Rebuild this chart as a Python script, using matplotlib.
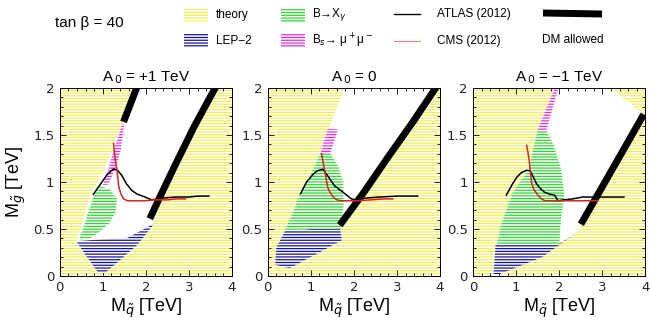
"""Constrained MSSM plane at tan beta = 40 for three A0 values.

Squark vs gluino mass, with theory / LEP-2 / b->s gamma / Bs->mumu
excluded regions, the ATLAS and CMS 2012 limits and the DM allowed strips.
"""

import matplotlib.pyplot as plt
from matplotlib.patches import Polygon, Rectangle

plt.rcParams["hatch.linewidth"] = 0.9
plt.rcParams["font.family"] = ["Liberation Sans", "DejaVu Sans"]

titles = ["A$_{\\,0}$ = +1 TeV", "A$_{\\,0}$ = 0", "A$_{\\,0}$ = \u22121 TeV"]

# allowed (white) region of each panel, everything else is "theory" excluded
allowed_1 = [(0.38, 0.35), (0.72, 0.87), (1.0, 1.1), (1.25, 1.38), (1.48, 1.66), (1.78, 2.0),
             (3.61, 2.0), (3.12, 1.59), (2.7, 1.2), (2.36, 0.875), (2.09, 0.61),
             (2.2, 0.55), (1.8, 0.33), (1.05, 0.03), (0.9, 0.03)]
allowed_2 = [(0.17, 0.12), (0.2, 0.3), (0.44, 0.52), (0.75, 0.875), (1.05, 1.125), (1.2, 1.3),
             (1.4, 1.55), (1.6, 1.78), (1.78, 2.0), (3.92, 2.0), (3.4, 1.66), (2.8, 1.27),
             (2.2, 0.87), (1.67, 0.54), (1.72, 0.38), (1.2, 0.25), (0.5, 0.08)]
allowed_3 = [(0.46, 0.0), (0.51, 0.3), (0.63, 0.52), (0.9, 0.875), (1.28, 1.125), (1.49, 1.55),
             (1.89, 2.0), (3.2, 2.0), (3.96, 1.72), (2.5, 0.55), (2.43, 0.47), (0.62, 0.0)]

lep_1 = [(0.38, 0.37), (1.0, 0.39), (1.55, 0.4), (2.2, 0.56), (1.8, 0.33), (1.05, 0.03),
         (0.9, 0.03), (0.6, 0.22)]
lep_2 = [(0.17, 0.12), (0.2, 0.3), (0.4, 0.48), (1.0, 0.5), (1.68, 0.5), (1.72, 0.38),
         (1.2, 0.25), (0.5, 0.08)]
lep_3 = [(0.47, 0.02), (0.52, 0.34), (2.0, 0.34), (2.43, 0.47), (1.6, 0.2), (0.62, 0.02)]

bsg_1 = [(0.45, 0.38), (0.62, 0.62), (0.8, 0.88), (0.95, 0.95), (1.15, 0.93), (1.33, 0.82),
         (1.3, 0.68), (1.15, 0.56), (0.95, 0.48), (0.75, 0.41)]
bsg_2 = [(0.4, 0.48), (0.6, 0.7), (0.75, 0.875), (1.05, 1.13), (1.22, 1.31), (1.45, 1.31),
         (1.65, 1.15), (1.75, 1.0), (1.76, 0.75), (1.7, 0.5), (1.0, 0.5)]
bsg_3 = [(0.55, 0.34), (0.63, 0.52), (0.9, 0.875), (1.28, 1.125), (1.49, 1.55), (1.7, 1.55),
         (1.88, 1.38), (2.05, 1.12), (2.12, 0.85), (2.04, 0.6), (2.0, 0.34)]

bsmm_1 = [(1.0, 0.97), (1.12, 0.97), (1.3, 1.15), (1.42, 1.35), (1.5, 1.62), (1.45, 1.62),
          (1.25, 1.33), (1.1, 1.1)]
bsmm_2 = [(1.22, 1.3), (1.45, 1.3), (1.63, 1.56), (1.4, 1.57), (1.3, 1.43)]
bsmm_3 = [(1.49, 1.55), (1.7, 1.55), (1.98, 2.0), (1.89, 2.0)]

# DM allowed strips (msq, mgl)
dm_1 = [([1.48, 1.8], [1.64, 2.02]),
        ([2.09, 2.36, 2.7, 3.12, 3.63], [0.61, 0.875, 1.2, 1.59, 2.02])]
dm_2 = [([1.67, 2.2, 2.8, 3.4, 3.94], [0.54, 0.87, 1.27, 1.66, 2.03])]
dm_3 = [([2.5, 3.96], [0.55, 1.72])]

atlas_x_1 = [0.78, 0.95, 1.1, 1.25, 1.35, 1.44, 1.55, 1.67, 1.8, 1.98, 2.13, 2.4, 2.7, 3.0, 3.2, 3.46]
atlas_y_1 = [0.87, 0.98, 1.08, 1.14, 1.12, 1.07, 0.98, 0.91, 0.87, 0.84, 0.81, 0.83, 0.84, 0.84, 0.85, 0.85]
cms_x_1 = [1.25, 1.27, 1.3, 1.33, 1.37, 1.42, 1.48, 1.57, 1.67, 1.8, 1.97, 2.2, 2.5, 2.7, 2.92]
cms_y_1 = [1.41, 1.3, 1.2, 1.12, 0.95, 0.87, 0.82, 0.8, 0.8, 0.8, 0.8, 0.81, 0.81, 0.82, 0.82]

atlas_x_2 = [0.76, 0.9, 1.05, 1.15, 1.28, 1.4, 1.55, 1.75, 1.94, 2.05, 2.3, 2.6, 3.0, 3.48]
atlas_y_2 = [0.875, 1.0, 1.08, 1.12, 1.135, 1.06, 0.96, 0.89, 0.82, 0.81, 0.83, 0.84, 0.85, 0.85]
cms_x_2 = [1.25, 1.28, 1.32, 1.36, 1.4, 1.46, 1.52, 1.6, 1.71, 1.85, 2.05, 2.4, 2.7, 2.9]
cms_y_2 = [1.3, 1.22, 1.125, 1.02, 0.93, 0.88, 0.84, 0.81, 0.8, 0.8, 0.8, 0.81, 0.82, 0.82]

atlas_x_3 = [0.77, 0.9, 1.01, 1.12, 1.24, 1.32, 1.4, 1.47, 1.56, 1.66, 1.78, 1.89, 1.97, 2.1, 2.31, 2.54, 3.0, 3.5]
atlas_y_3 = [0.86, 0.97, 1.05, 1.1, 1.125, 1.12, 1.05, 0.98, 0.93, 0.89, 0.87, 0.86, 0.8, 0.81, 0.82, 0.84, 0.84, 0.84]
cms_x_3 = [1.24, 1.27, 1.3, 1.33, 1.36, 1.41, 1.47, 1.56, 1.66, 1.8, 2.08, 2.4, 2.89]
cms_y_3 = [1.39, 1.32, 1.23, 1.1, 0.98, 0.92, 0.88, 0.83, 0.8, 0.8, 0.8, 0.8, 0.8]

panels = [
    (allowed_1, lep_1, bsg_1, bsmm_1, dm_1, atlas_x_1, atlas_y_1, cms_x_1, cms_y_1),
    (allowed_2, lep_2, bsg_2, bsmm_2, dm_2, atlas_x_2, atlas_y_2, cms_x_2, cms_y_2),
    (allowed_3, lep_3, bsg_3, bsmm_3, dm_3, atlas_x_3, atlas_y_3, cms_x_3, cms_y_3),
]

YELLOW = "#f2ee58"
BLUE = "#14149a"
GREEN = "#33d433"
MAGENTA = "#e030e0"
RED = "#e02020"
HATCH = "------"


def hatched(ax, pts, color, **kw):
    ax.add_patch(Polygon(pts, closed=True, facecolor="white", edgecolor=color,
                         hatch=HATCH, linewidth=0, **kw))


fig = plt.figure(figsize=(6.5, 3.25), dpi=100)

# legend strip drawn in pixel coordinates
leg = fig.add_axes([0, 0, 1, 1])
leg.set_xlim(0, 650)
leg.set_ylim(325, 0)
leg.axis("off")
leg.text(55, 23, "tan \u03b2 = 40", fontsize=11, va="center")
for x0, y0, col in [(184, 9, YELLOW), (184, 34, BLUE), (281, 9, GREEN), (281, 34, MAGENTA)]:
    leg.add_patch(Rectangle((x0, y0), 24, 13, facecolor="white", edgecolor=col,
                            hatch=HATCH, linewidth=0))
leg.text(216, 15, "theory", fontsize=8.5, va="center")
leg.text(216, 41, "LEP\u22122", fontsize=8.5, va="center")
leg.text(312, 15, "B\u2192X$_\\gamma$", fontsize=8.5, va="center")
leg.text(312, 41, "B$_s$\u2192 \u03bc$^+$\u03bc$^-$", fontsize=8.5, va="center")
leg.plot([394, 420], [14, 14], color="black", lw=1.0)
leg.plot([394, 420], [41, 41], color=RED, lw=0.8, alpha=0.6)
leg.text(437, 14, "ATLAS (2012)", fontsize=8.5, va="center")
leg.text(437, 41, "CMS (2012)", fontsize=8.5, va="center")
leg.plot([543, 602], [13, 14], color="black", lw=5, solid_capstyle="butt")
leg.text(542, 40, "DM allowed", fontsize=8.5, va="center")

lefts = [0.092, 0.412, 0.728]
for i, (left, title, panel) in enumerate(zip(lefts, titles, panels)):
    allowed, lep, bsg, bsmm, dm, ax_x, ax_y, cm_x, cm_y = panel
    ax = fig.add_axes([left, 0.151, 0.265, 0.578])
    ax.set_xlim(0, 4)
    ax.set_ylim(0, 2)

    # theory excluded everywhere, then carve out the allowed region
    ax.add_patch(Rectangle((0, 0), 4, 2, facecolor="white", edgecolor=YELLOW,
                           hatch=HATCH, linewidth=0, zorder=0))
    ax.add_patch(Polygon(allowed, closed=True, facecolor="white", edgecolor="none", zorder=1))
    hatched(ax, lep, BLUE, zorder=2)
    hatched(ax, bsg, GREEN, zorder=2)
    hatched(ax, bsmm, MAGENTA, zorder=2)

    for xs, ys in dm:
        ax.plot(xs, ys, color="black", lw=5, solid_capstyle="butt", zorder=4)
    ax.plot(ax_x, ax_y, color="black", lw=1.1, zorder=5)
    ax.plot(cm_x, cm_y, color=RED, lw=1.1, zorder=5)

    ax.set_xticks([0, 1, 2, 3, 4])
    ax.set_yticks([0, 0.5, 1, 1.5, 2])
    ax.set_yticklabels(["0", "0.5", "1", "1.5", "2"])
    ax.set_xticks([k * 0.2 for k in range(21)], minor=True)
    ax.set_yticks([k * 0.1 for k in range(21)], minor=True)
    ax.tick_params(which="both", direction="in", top=True, right=True,
                   labelsize=9.5, width=0.6, labelcolor="#222222")
    ax.tick_params(which="major", length=4, pad=4)
    ax.tick_params(which="minor", length=2.5)
    for lab in ax.get_xticklabels() + ax.get_yticklabels():
        lab.set_family("DejaVu Sans")
    for sp in ax.spines.values():
        sp.set_linewidth(0.7)

    ax.set_title(title, fontsize=11, pad=5)
    ax.set_xlabel("M$_{\\tilde q}$ [TeV]", fontsize=13, labelpad=2)
    if i == 0:
        ax.set_ylabel("M$_{\\tilde g}$ [TeV]", fontsize=13, labelpad=4)

fig.savefig("out.png", dpi=100)
